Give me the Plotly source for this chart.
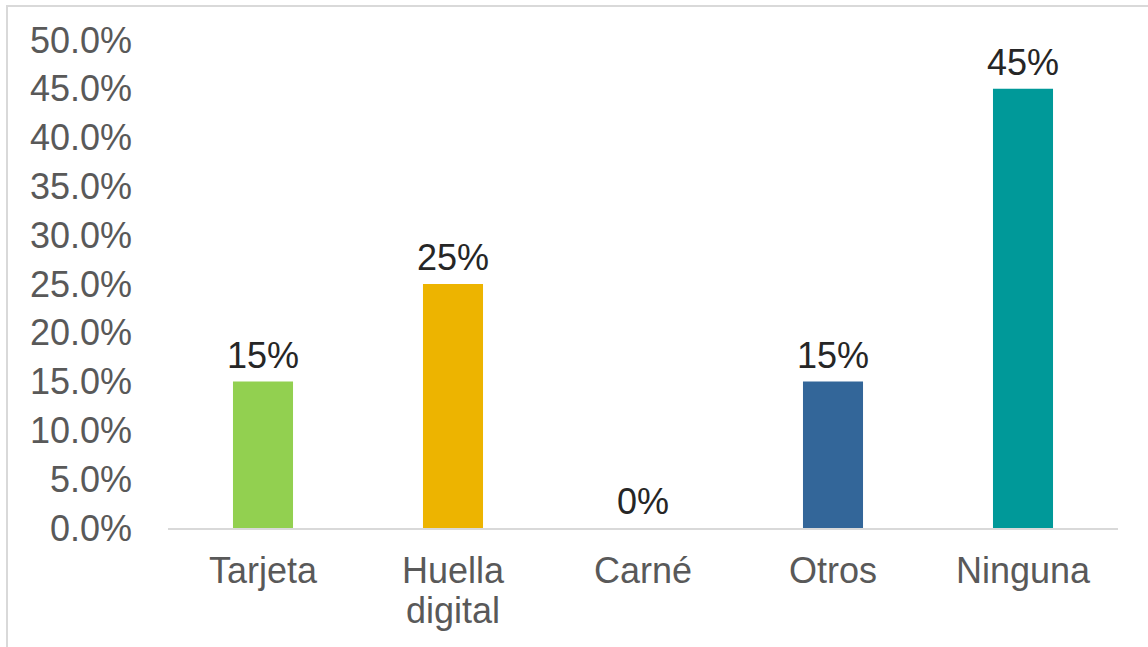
import plotly.graph_objects as go

# Survey answers: identification method used
categorias = ["Tarjeta", "Huella<br>digital", "Carné", "Otros", "Ninguna"]
porcentajes = [0.15, 0.25, 0.00, 0.15, 0.45]
etiquetas = ["15%", "25%", "0%", "15%", "45%"]
colores_barras = ["#92D050", "#EDB400", "#ffffff", "#336699", "#009999"]

tick_vals = [i * 0.05 for i in range(11)]
tick_text = [f"{v * 100:.1f}%" for v in tick_vals]

FONT = "Liberation Sans, Arial, sans-serif"
SIZE = 36

fig = go.Figure(
    go.Bar(
        x=categorias,
        y=porcentajes,
        marker=dict(color=colores_barras, line=dict(width=0)),
        width=0.316,
        cliponaxis=False,
    )
)

annotations = []
# value labels above each bar
for cat, val, txt in zip(categorias, porcentajes, etiquetas):
    annotations.append(
        dict(
            x=cat, y=val, xref="x", yref="y", text=txt, showarrow=False,
            yanchor="bottom", yshift=4,
            font=dict(family=FONT, size=SIZE, color="#262626"),
        )
    )
# category labels under the axis, one annotation per text line
for cat in categorias:
    for i, linea in enumerate(cat.split("<br>")):
        annotations.append(
            dict(
                x=cat, y=0, xref="x", yref="paper", text=linea, showarrow=False,
                yanchor="middle", yshift=-42 - 40 * i,
                font=dict(family=FONT, size=SIZE, color="#595959"),
            )
        )

fig.update_layout(
    width=1148,
    height=647,
    margin=dict(l=168, r=30, t=40, b=119),
    paper_bgcolor="white",
    plot_bgcolor="white",
    showlegend=False,
    annotations=annotations,
    xaxis=dict(
        showline=True,
        linecolor="#d9d9d9",
        linewidth=2,
        ticks="",
        showgrid=False,
        showticklabels=False,
    ),
    yaxis=dict(
        range=[0, 0.5],
        tickvals=tick_vals,
        ticktext=tick_text,
        showgrid=False,
        zeroline=False,
        showline=False,
        ticks="",
        tickfont=dict(family=FONT, size=SIZE, color="#595959"),
        ticklabelstandoff=35,
    ),
    shapes=[
        dict(
            type="rect",
            xref="paper",
            yref="paper",
            x0=(7 - 168) / 950,
            x1=1.2,
            y0=-0.5,
            y1=(528 - 6) / 488,
            line=dict(color="#d9d9d9", width=2),
            fillcolor="rgba(0,0,0,0)",
            layer="below",
        )
    ],
)

fig.write_html("out.html")
